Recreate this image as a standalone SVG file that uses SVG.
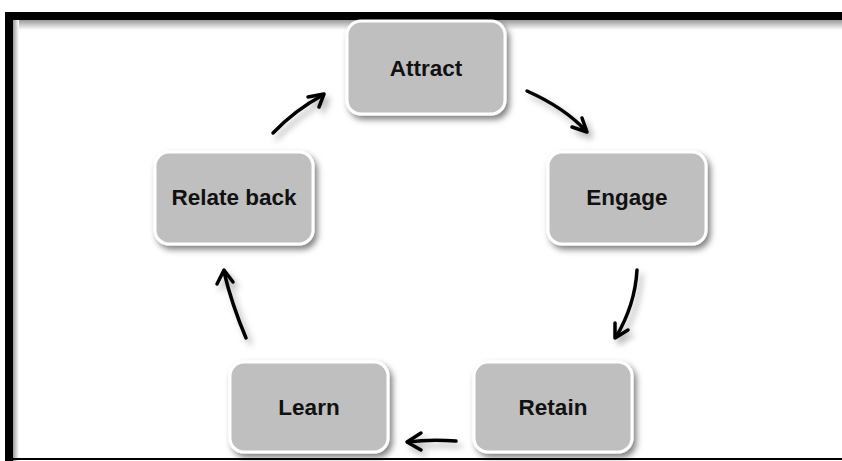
<svg xmlns="http://www.w3.org/2000/svg" width="842" height="461" viewBox="0 0 842 461">
<defs>
<style>
.box{fill:#bfbfbf;stroke:#ffffff;stroke-width:3}
.lbl{font-family:"Liberation Sans",Arial,sans-serif;font-weight:bold;font-size:22.5px;fill:#111;text-anchor:middle}
.arr{fill:none;stroke:#000;stroke-width:3.5;stroke-linecap:round;stroke-linejoin:round}
</style>
<filter id="sh" x="-20%" y="-20%" width="150%" height="150%">
<feDropShadow dx="3" dy="4" stdDeviation="3" flood-color="#000" flood-opacity="0.5"/>
</filter>
<filter id="ash" x="-50%" y="-50%" width="200%" height="200%">
<feDropShadow dx="4" dy="5" stdDeviation="3" flood-color="#000" flood-opacity="0.3"/>
</filter>
<linearGradient id="topg" x1="0" y1="0" x2="0" y2="1">
<stop offset="0" stop-color="#9a9a9a"/>
<stop offset="1" stop-color="#ffffff"/>
</linearGradient>
<linearGradient id="leftg" x1="0" y1="0" x2="1" y2="0">
<stop offset="0" stop-color="#9a9a9a"/>
<stop offset="1" stop-color="#ffffff"/>
</linearGradient>
</defs>
<rect x="0" y="0" width="842" height="461" fill="#ffffff"/>
<g id="frame">
<rect x="13" y="20" width="829" height="10" fill="url(#topg)"/>
<rect x="13" y="20" width="6" height="441" fill="url(#leftg)"/>
<rect x="5" y="12" width="837" height="8" fill="#000"/>
<rect x="5" y="12" width="8" height="449" fill="#000"/>
<rect x="5" y="458" width="837" height="2" fill="#000"/>
</g>
<g id="connectors" filter="url(#ash)">
<path class="arr" d="M273,133 Q295,110 323,95"/>
<path class="arr" d="M308,97 L324,94 L319,107"/>
<path class="arr" d="M527,91 Q565,108 586,131"/>
<path class="arr" d="M572,127 L587,132 L582,118"/>
<path class="arr" d="M637,270 Q635,305 616,337"/>
<path class="arr" d="M615,323 L615,338 L628,330"/>
<path class="arr" d="M456,441 Q430,439 408,442"/>
<path class="arr" d="M421,433 L407,442 L421,450"/>
<path class="arr" d="M246,338 Q232,305 224,272"/>
<path class="arr" d="M217,284 L224,270 L233,282"/>
</g>
<g id="attract">
<rect class="box" filter="url(#sh)" x="347" y="21" width="158" height="93" rx="14"/>
<text class="lbl" x="426" y="76">Attract</text>
</g>
<g id="engage">
<rect class="box" filter="url(#sh)" x="548" y="152" width="158" height="92" rx="14"/>
<text class="lbl" x="627" y="205">Engage</text>
</g>
<g id="retain">
<rect class="box" filter="url(#sh)" x="474" y="362" width="158" height="90" rx="14"/>
<text class="lbl" x="553" y="415">Retain</text>
</g>
<g id="learn">
<rect class="box" filter="url(#sh)" x="230" y="362" width="158" height="90" rx="14"/>
<text class="lbl" x="309" y="415">Learn</text>
</g>
<g id="relate-back">
<rect class="box" filter="url(#sh)" x="155" y="152" width="158" height="92" rx="14"/>
<text class="lbl" x="234" y="205">Relate back</text>
</g>
</svg>
